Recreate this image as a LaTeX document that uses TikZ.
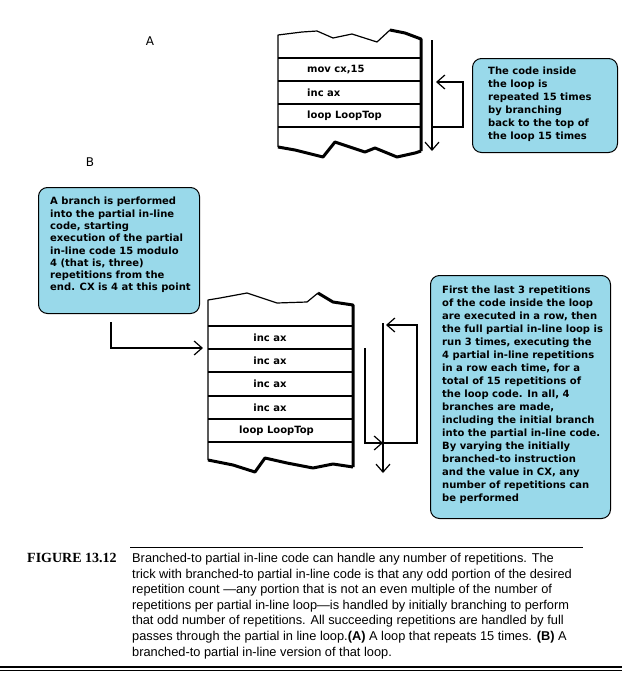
\documentclass[tikz,border=0pt]{standalone}
\usepackage{fontspec}
\setmainfont{Liberation Serif}
\newfontfamily\notefont{DejaVu Sans}
\newfontfamily\capfont{Liberation Sans}
\usetikzlibrary{positioning}
\usetikzlibrary{arrows.meta}
\definecolor{notecyan}{RGB}{153,217,234}
\tikzset{
    notebox/.style = {draw=black, line width=1pt, fill=notecyan, rounded corners=9pt, inner sep=0pt},
    notetext/.style = {align=left, inner sep=0pt, font=\notefont\bfseries\fontsize{10}{13}\selectfont, text=black},
    codetext/.style = {inner sep=0pt, font=\notefont\bfseries\fontsize{10}{12}\selectfont, text=black},
    rowline/.style = {line width=1.2pt, black},
    edgethin/.style = {line width=1.2pt, black, line join=round},
    edgethick/.style = {line width=3pt, black, line join=round},
    flow/.style = {line width=1.2pt, black, -{Straight Barb[length=8pt,width=14pt,line width=1.2pt]}},
    letter/.style = {font=\notefont\fontsize{12}{12}\selectfont, inner sep=0pt},
    figlabel/.style = {font=\rmfamily\bfseries\fontsize{14}{14}\selectfont, inner sep=0pt},
    captext/.style = {align=left, inner sep=0pt, font=\capfont\fontsize{12.8}{15.6}\selectfont}
}

\begin{document}
\begin{tikzpicture}[x=1pt, y=-1pt]
  \useasboundingbox (0,0) rectangle (644,691);
  % panel letters
  \node[letter] (labA) at (150,41) {A};
  \node[letter] (labB) at (90,162) {B};

  % block A
  \draw[edgethin] (278,147) -- (278,35) -- (302,32) -- (317,31) -- (333,38) -- (352,34) -- (377,42) -- (390,30);
  \draw[edgethick] (390,30) -- (405,33) -- (421,39) -- (421,151);
  \draw[edgethick] (278,147) -- (295,150) -- (323,157) -- (335,142) -- (353,148) -- (365,152) -- (375,148) -- (397,157) -- (415,153) -- (421,151);
  \foreach \y in {58,81,104,127} \draw[rowline] (278,\y) -- (421,\y);
  \node[codetext, anchor=west] (movcx) at (307,69.5) {mov cx,15};
  \node[codetext, anchor=west] (incA) at (307,92.5) {inc ax};
  \node[codetext, anchor=west] (loopA) at (307,115.5) {loop LoopTop};

  % arrows A
  \coordinate (aTop) at (432,40);
  \coordinate (aEnd) at (432,151);
  \draw[flow] (aTop) -- (aEnd);
  \coordinate (aBack) at (433,127);
  \coordinate (aLoop) at (436,82);
  \draw[flow] (aBack) -- ++(30,0) |- (aLoop);

  % note A
  \node[notebox, minimum width=145pt, minimum height=94pt, anchor=north west] (noteA) at (472,58) {};
  \node[notetext, anchor=north west] (noteAtxt) at ([xshift=16pt,yshift=-9pt]noteA.north west)
    {The code inside\\the loop is\\repeated 15 times\\by branching\\back to the top of\\the loop 15 times};

  % note B, entry
  \node[notebox, minimum width=161pt, minimum height=126pt, anchor=north west] (noteB) at (38,187) {};
  \node[notetext, font=\notefont\bfseries\fontsize{10}{12.3}\selectfont, anchor=north west] (noteBtxt) at ([xshift=12pt,yshift=-10pt]noteB.north west)
    {A branch is performed\\into the partial in-line\\code, starting\\execution of the partial\\in-line code 15 modulo\\4 (that is, three)\\repetitions from the\\end. CX is 4 at this point};

  % block B
  \draw[edgethin] (208,460) -- (208,300) -- (220,298) -- (247,293) -- (277,303) -- (307,302) -- (318,293);
  \draw[edgethick] (318,293) -- (333,302) -- (353,305) -- (353,467);
  \draw[edgethick] (208,460) -- (233,465) -- (255,472) -- (265,458) -- (287,463) -- (313,468) -- (333,464) -- (353,467);
  \foreach \y in {326,349,372,396,419,442} \draw[rowline] (208,\y) -- (353,\y);
  \node[codetext] (incB1) at (270,337.5) {inc ax};
  \node[codetext] (incB2) at (270,360.5) {inc ax};
  \node[codetext] (incB3) at (270,384) {inc ax};
  \node[codetext] (incB4) at (270,407.5) {inc ax};
  \node[codetext] (loopB) at (276.5,430.5) {loop LoopTop};

  % arrows B
  \coordinate (bStart) at (111,322);
  \coordinate (bEntry) at (203,348);
  \draw[flow] (bStart) |- (bEntry);
  \coordinate (bRun) at (365,348);
  \coordinate (bJoin) at (383,443);
  \draw[flow] (bRun) |- (bJoin);
  \coordinate (bBack) at (386,325);
  \draw[flow] (bJoin) -- ++(34,0) |- (bBack);
  \coordinate (bTop) at (383,323);
  \coordinate (bEnd) at (383,473);
  \draw[flow] (bTop) -- (bEnd);

  % note C
  \node[notebox, minimum width=180pt, minimum height=243pt, anchor=north west] (noteC) at (430,275) {};
  \node[notetext, anchor=north west] (noteCtxt) at ([xshift=12pt,yshift=-11pt]noteC.north west)
    {First the last 3 repetitions\\of the code inside the loop\\are executed in a row, then\\the full partial in-line loop is\\run 3 times, executing the\\4 partial in-line repetitions\\in a row each time, for a\\total of 15 repetitions of\\the loop code. In all, 4\\branches are made,\\including the initial branch\\into the partial in-line code.\\By varying the initially\\branched-to instruction\\and the value in CX, any\\number of repetitions can\\be performed};

  % caption
  \draw[line width=1pt] (130,547) -- (583,547);
  \node[figlabel, anchor=base west] (figno) at (27,562) {FIGURE 13.12};
  \node[captext, anchor=north west] (captxt) at (132,553)
    {Branched-to partial in-line code can handle any number of repetitions. The\\
     trick with branched-to partial in-line code is that any odd portion of the desired\\
     repetition count —any portion that is not an even multiple of the number of\\
     repetitions per partial in-line loop—is handled by initially branching to perform\\
     that odd number of repetitions. All succeeding repetitions are handled by full\\
     passes through the partial in line loop.\textbf{(A)} A loop that repeats 15 times. \textbf{(B)} A\\
     branched-to partial in-line version of that loop.};
  \draw[line width=1.3pt] (0,667) -- (622,667);
  \draw[line width=1.3pt] (0,670.5) -- (622,670.5);
\end{tikzpicture}
\end{document}
